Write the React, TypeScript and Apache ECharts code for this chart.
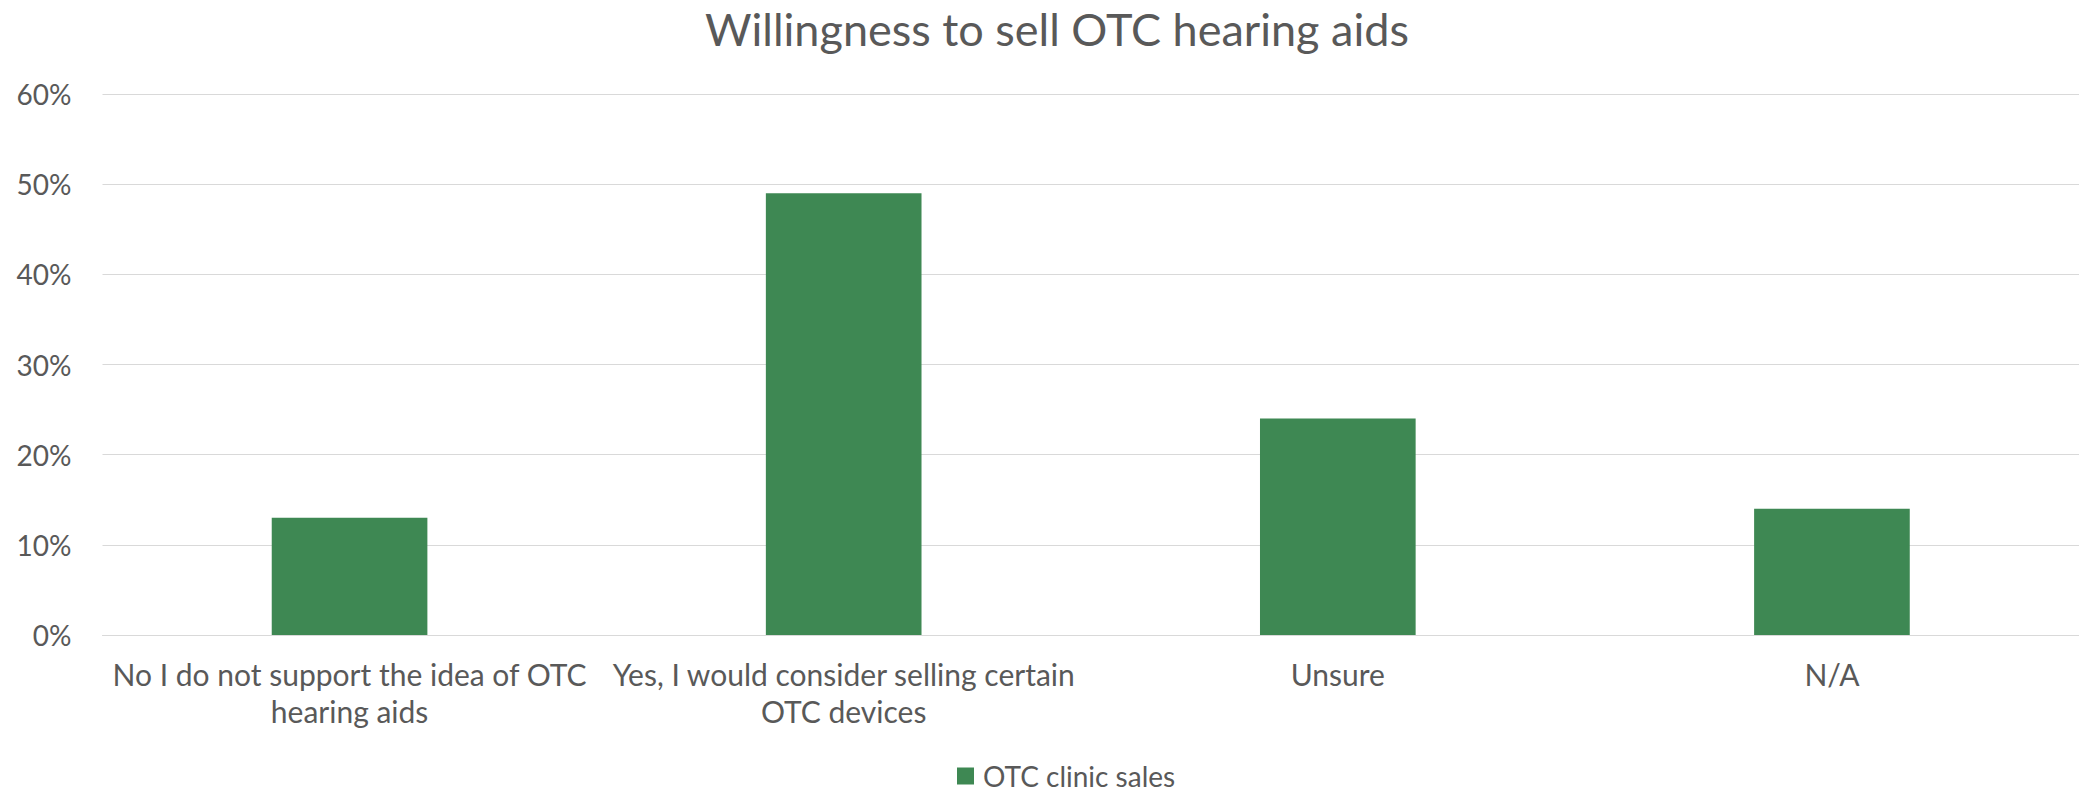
import React, { useEffect, useRef } from "react";
import * as echarts from "echarts";

const title = "Willingness to sell OTC hearing aids";
const categories = [
  "No I do not support the idea of OTC\nhearing aids",
  "Yes, I would consider selling certain\nOTC devices",
  "Unsure",
  "N/A",
];
const seriesName = "OTC clinic sales";
const values = [13, 49, 24, 14];
const yTicks = { min: 0, max: 60, interval: 10 };

const FONT = "Lato";
const TEXT = "#595959";
const GRID = "#D9D9D9";
const GREEN = "#3E8853";

export default function App() {
  const ref = useRef<HTMLDivElement>(null);
  useEffect(() => {
    if (!ref.current) return;
    const chart = echarts.init(ref.current, undefined, { renderer: "svg" });
    chart.setOption({
      animation: false,
      backgroundColor: "#ffffff",
      title: {
        text: title,
        left: 1052,
        top: 1,
        textAlign: "center",
        textStyle: { fontFamily: FONT, fontSize: 45, fontWeight: "normal", color: TEXT },
      },
      legend: {
        data: [seriesName],
        left: 952,
        top: 757,
        itemWidth: 17,
        itemHeight: 17,
        icon: "rect",
        textStyle: {
          fontFamily: FONT,
          fontSize: 28,
          lineHeight: 28,
          color: TEXT,
          padding: [0, 0, 0, 4],
        },
      },
      grid: { left: 102.5, top: 94, width: 1980, height: 541, containLabel: false },
      xAxis: {
        type: "category",
        data: categories,
        axisLine: { lineStyle: { color: GRID, width: 1 } },
        axisTick: { show: false },
        axisLabel: {
          fontFamily: FONT,
          fontSize: 30,
          color: TEXT,
          lineHeight: 37,
          margin: 20,
          interval: 0,
        },
      },
      yAxis: {
        type: "value",
        min: yTicks.min,
        max: yTicks.max,
        interval: yTicks.interval,
        axisLine: { show: false },
        axisTick: { show: false },
        splitLine: { lineStyle: { color: GRID, width: 1 } },
        axisLabel: {
          fontFamily: FONT,
          fontSize: 28,
          color: TEXT,
          margin: 31,
          formatter: "{value}%",
        },
      },
      series: [
        {
          name: seriesName,
          type: "bar",
          data: values,
          barWidth: "31.5%",
          itemStyle: { color: GREEN },
        },
      ],
    });
    return () => chart.dispose();
  }, []);
  return (
    <div
      ref={ref}
      style={{ position: "absolute", left: 0, top: 0, width: 2079, height: 792 }}
    />
  );
}
